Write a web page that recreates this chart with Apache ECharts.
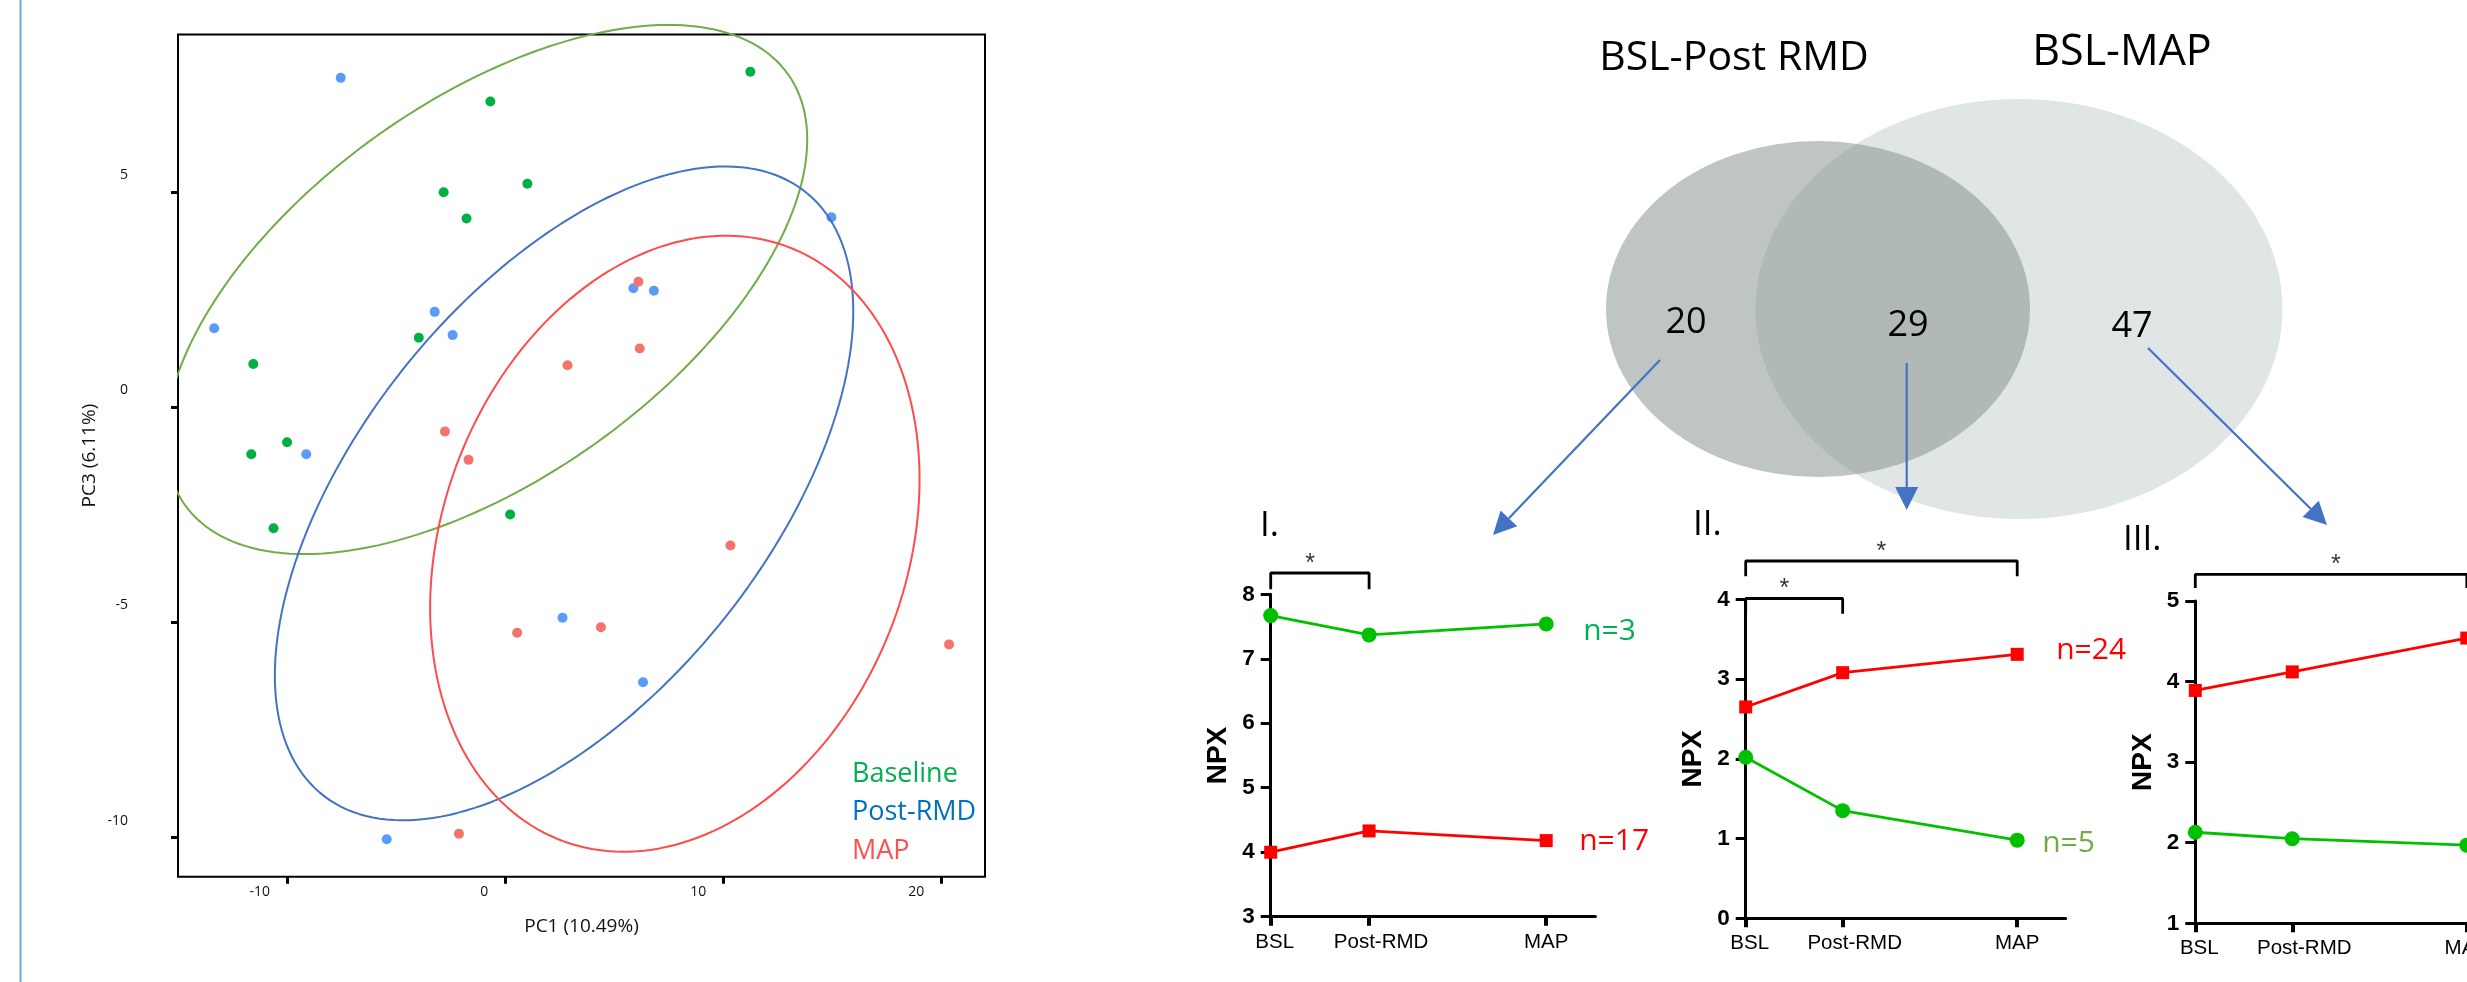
<!DOCTYPE html>
<html>
<head>
<meta charset="utf-8">
<style>
  html, body { margin: 0; padding: 0; background: #fff; }
  #chart { width: 2467px; height: 982px; }
</style>
<script src="https://cdn.jsdelivr.net/npm/echarts@6/dist/echarts.min.js"></script>
</head>
<body>
<div id="chart"></div>
<script>
// PCA scores [PC1, PC3]
const baselinePts = [[11.24, 7.80], [-0.68, 7.11], [-2.82, 5.00], [1.02, 5.20], [-1.77, 4.39], [-3.96, 1.62],
  [-11.55, 1.01], [-11.64, -1.09], [-10.00, -0.81], [-10.62, -2.81], [0.23, -2.49]];
const postRmdPts = [[-7.54, 7.66], [14.96, 4.42], [5.88, 2.77], [6.82, 2.71], [-3.23, 2.22], [-2.41, 1.68],
  [-13.34, 1.84], [-9.12, -1.09], [2.63, -4.89], [6.32, -6.39], [-5.43, -10.04]];
const mapPts = [[6.11, 2.92], [6.17, 1.37], [2.86, 0.98], [-2.76, -0.56], [-1.68, -1.22], [10.33, -3.21],
  [4.39, -5.11], [0.55, -5.24], [20.35, -5.51], [-2.12, -9.91]];

// group ellipses: [centre PC1, centre PC3, half width PC1, half height PC3, correlation]
const ellipseBaseline = [-0.86, 2.74, 14.71, 6.15, 0.567];
const ellipsePostRmd = [2.70, -2.00, 13.26, 7.60, 0.557];
const ellipseMap = [7.78, -3.17, 11.22, 7.16, 0.209];

const pcaXTicks = [-10, 0, 10, 20];
const pcaYTicks = [-10, -5, 0, 5];

// venn
const vennSets = ['BSL-Post RMD', 'BSL-MAP'];
const vennCounts = [20, 29, 47];

// NPX profiles
const timepoints = ['BSL', 'Post-RMD', 'MAP'];
const timeValues = [0, 1, 2.8];

const panelI_green = [7.67, 7.37, 7.54];
const panelI_red = [4.00, 4.33, 4.18];
const panelI_n = [3, 17];

const panelII_red = [2.65, 3.08, 3.31];
const panelII_green = [2.02, 1.35, 0.98];
const panelII_n = [24, 5];

const panelIII_red = [3.89, 4.12, 4.54];
const panelIII_green = [2.13, 2.05, 1.97];

// significance brackets: [from, to, level, drop, star x]
const bracketsI = [[0, 1, 8.33, 8.08, 0.4]];
const bracketsII = [[0, 2.8, 4.48, 4.29, 1.4], [0, 1, 4.01, 3.82, 0.4]];
const bracketsIII = [[0, 2.8, 5.33, 5.16, 1.45]];

const OPEN = 'Open Sans';
const ARIAL = 'Liberation Sans';
const GREEN = '#00c000';
const RED = '#ff0000';

function ellipsePoints(e) {
  const [cx, cy, rx, ry, rho] = e;
  const d = Math.acos(rho);
  const pts = [];
  for (let i = 0; i <= 200; i++) {
    const t = i / 200 * 2 * Math.PI;
    pts.push([cx + rx * Math.cos(t), cy + ry * Math.cos(t - d)]);
  }
  return pts;
}

let chart = echarts.init(document.getElementById('chart'));

let grids = [
  { left: 178, top: 34.4, width: 807, height: 842.3, show: true, borderColor: '#000', borderWidth: 2 },
  { left: 1270.7, top: 594.3, width: 324.7, height: 322.4 },
  { left: 1745.7, top: 599.3, width: 320, height: 319 },
  { left: 2195.3, top: 601, width: 320, height: 322.3 }
].map(g => Object.assign({ containLabel: false, outerBoundsMode: 'none' }, g));

let xAxes = [];
let yAxes = [];
let series = [];

// PCA panel
xAxes.push({
  type: 'value', gridIndex: 0, min: -15, max: 22,
  name: 'PC1 (10.49%)', nameLocation: 'middle', nameGap: 40,
  nameTextStyle: { fontSize: 19, fontFamily: OPEN, color: '#111' },
  axisLine: { show: false, onZero: false },
  axisTick: { show: true, customValues: pcaXTicks, length: 7, lineStyle: { color: '#000', width: 3 } },
  axisLabel: { customValues: pcaXTicks, align: 'right', padding: [0, 17, 0, 0], margin: 8,
    fontSize: 14, fontFamily: OPEN, color: '#111' },
  splitLine: { show: false }
});
yAxes.push({
  type: 'value', gridIndex: 0, min: -10.91, max: 8.67,
  name: 'PC3 (6.11%)', nameLocation: 'middle', nameGap: 79,
  nameTextStyle: { fontSize: 19, fontFamily: OPEN, color: '#111' },
  axisLine: { show: false, onZero: false },
  axisTick: { show: true, customValues: pcaYTicks, length: 7, lineStyle: { color: '#000', width: 3 } },
  axisLabel: { customValues: pcaYTicks, margin: 50, verticalAlign: 'bottom', padding: [0, 0, 10, 0],
    fontSize: 14, fontFamily: OPEN, color: '#111' },
  splitLine: { show: false }
});

[[ellipseBaseline, '#70ad47'], [ellipsePostRmd, '#4472c4'], [ellipseMap, '#ff4b4b']].forEach(([e, c], i) => {
  series.push({
    type: 'line', name: 'ellipse' + i, xAxisIndex: 0, yAxisIndex: 0,
    data: ellipsePoints(e), showSymbol: false, symbol: 'none', clip: false, silent: true,
    lineStyle: { color: c, width: 2 }
  });
});
[['Baseline', baselinePts, '#00b045'], ['Post-RMD', postRmdPts, '#5b9bf8'], ['MAP', mapPts, '#f4736b']].forEach(([n, d, c]) => {
  series.push({
    type: 'scatter', name: n, xAxisIndex: 0, yAxisIndex: 0, data: d,
    symbolSize: 10, itemStyle: { color: c, opacity: 1 }
  });
});

// NPX panels
const panels = [
  { yMin: 3, yMax: 8, lines: [
      { vals: panelI_green, color: GREEN, sym: 'circle', size: 15, n: 'n=' + panelI_n[0], nColor: '#00b050', dist: 37, off: [0, 7] },
      { vals: panelI_red, color: RED, sym: 'rect', size: 13, n: 'n=' + panelI_n[1], nColor: RED, dist: 33, off: [0, 1] }],
    brackets: bracketsI },
  { yMin: 0, yMax: 4, lines: [
      { vals: panelII_red, color: RED, sym: 'rect', size: 13, n: 'n=' + panelII_n[0], nColor: RED, dist: 39, off: [0, -4] },
      { vals: panelII_green, color: GREEN, sym: 'circle', size: 15, n: 'n=' + panelII_n[1], nColor: '#70ad47', dist: 25, off: [0, 3] }],
    brackets: bracketsII },
  { yMin: 1, yMax: 5, lines: [
      { vals: panelIII_red, color: RED, sym: 'rect', size: 13, n: '', nColor: RED, dist: 40, off: [0, 0] },
      { vals: panelIII_green, color: GREEN, sym: 'circle', size: 15, n: '', nColor: GREEN, dist: 40, off: [0, 0] }],
    brackets: bracketsIII }
];

panels.forEach((p, k) => {
  const gi = k + 1;
  xAxes.push({
    type: 'value', gridIndex: gi, min: 0, max: 3.3,
    axisLine: { show: true, onZero: false, lineStyle: { color: '#000', width: 3 } },
    axisTick: { show: true, customValues: timeValues, length: 9, lineStyle: { color: '#000', width: 4 } },
    axisLabel: {
      customValues: timeValues, margin: 15, fontSize: 20.5, fontFamily: ARIAL, color: '#000',
      formatter: v => {
        const i = timeValues.indexOf(v);
        if (i === 0) return '{b|' + timepoints[0] + '}';
        if (i === 1) return '{p|' + timepoints[1] + '}';
        return timepoints[i];
      },
      rich: {
        b: { padding: [0, 0, 0, 8], fontSize: 20.5, fontFamily: ARIAL, color: '#000' },
        p: { padding: [0, 0, 0, 24], fontSize: 20.5, fontFamily: ARIAL, color: '#000' }
      }
    },
    splitLine: { show: false }
  });
  yAxes.push({
    type: 'value', gridIndex: gi, min: p.yMin, max: p.yMax, interval: 1,
    name: 'NPX', nameLocation: 'middle', nameGap: 38,
    nameTextStyle: { fontSize: 28, fontWeight: 'bold', fontFamily: ARIAL, color: '#000' },
    axisLine: { show: true, onZero: false, lineStyle: { color: '#000', width: 3 } },
    axisTick: { show: true, length: 10, lineStyle: { color: '#000', width: 3 } },
    axisLabel: { margin: 16, fontSize: 22.5, fontWeight: 'bold', fontFamily: ARIAL, color: '#000' },
    splitLine: { show: false }
  });
  p.lines.forEach(l => {
    series.push({
      type: 'line', xAxisIndex: gi, yAxisIndex: gi,
      data: timeValues.map((x, i) => [x, l.vals[i]]),
      symbol: l.sym, symbolSize: l.size, showSymbol: true, clip: false,
      itemStyle: { color: l.color },
      lineStyle: { color: l.color, width: 2.8 },
      endLabel: { show: !!l.n, formatter: l.n, distance: l.dist, offset: l.off,
        color: l.nColor, fontSize: 30, fontFamily: OPEN }
    });
  });
  p.brackets.forEach(b => {
    const [x0, x1, lev, drop, sx] = b;
    series.push({
      type: 'line', xAxisIndex: gi, yAxisIndex: gi, silent: true,
      data: [[x0, drop], [x0, lev], [x1, lev], [x1, drop]],
      symbol: 'none', showSymbol: false, clip: false,
      lineStyle: { color: '#000', width: 2.8 }
    });
    series.push({
      type: 'scatter', xAxisIndex: gi, yAxisIndex: gi, silent: true, clip: false,
      data: [[sx, lev]], symbolSize: 1, itemStyle: { color: 'rgba(0,0,0,0)' },
      label: { show: true, formatter: '*', position: 'top', distance: -4,
        fontSize: 25, fontFamily: ARIAL, color: '#000' }
    });
  });
});

// arrows from Venn regions to panels
function arrow(x1, y1, x2, y2) {
  const a = Math.atan2(y2 - y1, x2 - x1), L = 23, W = 11.5;
  const bx = x2 - L * Math.cos(a), by = y2 - L * Math.sin(a);
  const px = -Math.sin(a) * W, py = Math.cos(a) * W;
  return [
    { type: 'line', shape: { x1: x1, y1: y1, x2: bx, y2: by }, style: { stroke: '#4472c4', lineWidth: 2.2 } },
    { type: 'polygon', shape: { points: [[x2, y2], [bx + px, by + py], [bx - px, by - py]] }, style: { fill: '#4472c4' } }
  ];
}

function txt(text, x, y, size, opts) {
  return { type: 'text', x: x, y: y, z: 10,
    style: Object.assign({ text: text, fontSize: size, fontFamily: OPEN, fill: '#000',
      align: 'center', verticalAlign: 'middle' }, opts || {}) };
}

let graphics = [
  { type: 'line', shape: { x1: 20.5, y1: 0, x2: 20.5, y2: 982 }, style: { stroke: '#6fa8dc', lineWidth: 2 } },
  // venn
  { type: 'circle', x: 2019, y: 309, scaleY: 210 / 263.5, shape: { cx: 0, cy: 0, r: 263.5 }, style: { fill: '#e0e6e6' } },
  { type: 'circle', x: 1818, y: 309, scaleY: 168 / 212, shape: { cx: 0, cy: 0, r: 212 }, style: { fill: 'rgba(133,141,141,0.52)' } },
  txt(vennSets[0], 1734, 58, 41),
  txt(vennSets[1], 2122, 53, 43),
  txt(String(vennCounts[0]), 1686, 323, 36),
  txt(String(vennCounts[1]), 1908, 326, 36),
  txt(String(vennCounts[2]), 2132, 327, 36),
  txt('I.', 1260, 526, 35, { align: 'left' }),
  txt('II.', 1693, 525, 35, { align: 'left' }),
  txt('III.', 2123, 540, 35, { align: 'left' })
].concat(arrow(1660, 360, 1493, 535), arrow(1906.7, 363, 1906.7, 510), arrow(2148, 348, 2327, 525));

const option = {
  animation: false,
  backgroundColor: '#fff',
  grid: grids,
  xAxis: xAxes,
  yAxis: yAxes,
  legend: {
    orient: 'vertical', left: 842, top: 750, itemWidth: 0, itemHeight: 0, itemGap: 0,
    icon: 'none', selectedMode: false,
    textStyle: { fontSize: 27, fontFamily: OPEN, lineHeight: 38.5 },
    data: [
      { name: 'Baseline', textStyle: { color: '#00b050' } },
      { name: 'Post-RMD', textStyle: { color: '#0070c0' } },
      { name: 'MAP', textStyle: { color: '#ff5050' } }
    ]
  },
  graphic: graphics,
  series: series
};

if (option && typeof option === 'object') {
  chart.setOption(option, true);
}
</script>
</body>
</html>
